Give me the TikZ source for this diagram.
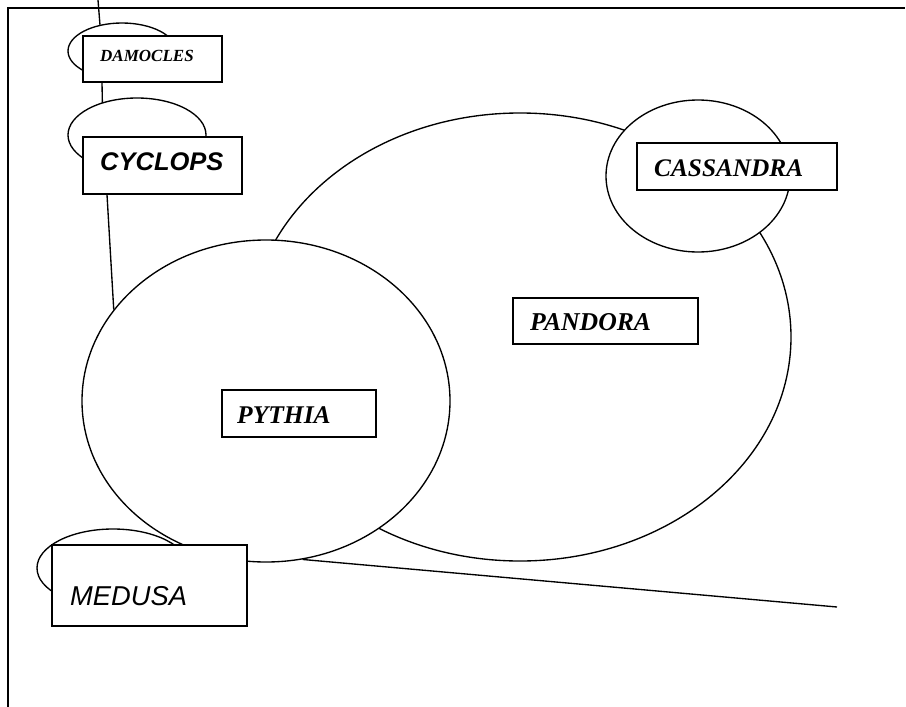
\documentclass[tikz,border=0pt]{standalone}
\usepackage{fontspec}
\setmainfont{Liberation Serif}
\setsansfont{Liberation Sans}
\usetikzlibrary{shapes.geometric,backgrounds}
\begin{document}
\begin{tikzpicture}[x=1pt,y=-1pt,
  conn/.style={line width=1.35pt},
  oval/.style={draw,ellipse,fill=white,line width=1.35pt,inner sep=0pt},
  box/.style={draw,rectangle,fill=white,line width=1.5pt,inner sep=0pt},
  lbl/.style={anchor=base west,inner sep=0pt},
  serifbi/.style={font=\fontsize{#1}{#1}\selectfont\rmfamily\bfseries\itshape},
  sansbi/.style={font=\fontsize{#1}{#1}\selectfont\sffamily\bfseries\itshape},
  sansi/.style={font=\fontsize{#1}{#1}\selectfont\sffamily\itshape}]
\useasboundingbox (0,0) rectangle (906,707);
% ellipses
\node[oval,minimum width=542pt,minimum height=448pt] (panE) at (520,337) {};
\node[oval,minimum width=368pt,minimum height=322pt] (pyE) at (266,401) {};
\node[oval,minimum width=184pt,minimum height=152pt] (casE) at (698,176) {};
\node[oval,minimum width=108pt,minimum height=56pt] (damE) at (122,51) {};
\node[oval,minimum width=138pt,minimum height=74pt] (cycE) at (137,135) {};
\node[oval,minimum width=152pt,minimum height=78pt] (medE) at (113,568) {};
% boxes
\node[box,minimum width=139pt,minimum height=46pt] (damB) at (152.5,59) {};
\node[box,minimum width=159pt,minimum height=57pt] (cycB) at (162.5,165.5) {};
\node[box,minimum width=200pt,minimum height=47pt] (casB) at (737,166.5) {};
\node[box,minimum width=185pt,minimum height=46pt] (panB) at (605.5,321) {};
\node[box,minimum width=154pt,minimum height=47pt] (pyB) at (299,413.5) {};
\node[box,minimum width=195pt,minimum height=81pt] (medB) at (149.5,585.5) {};
% labels
\node[lbl,serifbi=17] (damT) at (100,61) {DAMOCLES};
\node[lbl,sansbi=25.5] (cycT) at (100,170) {CYCLOPS};
\node[lbl,serifbi=25.3] (casT) at (654,176) {CASSANDRA};
\node[lbl,serifbi=25.7] (panT) at (530,330) {PANDORA};
\node[lbl,serifbi=25.5] (pyT) at (237,423) {PYTHIA};
\node[lbl,sansi=27.3] (medT) at (70,605) {MEDUSA};
% free ends
\coordinate (topend) at (98,0);
\coordinate (lineend) at (837,607);
\coordinate (frameBL) at (8,707);
\coordinate (frameTL) at (8,8);
\coordinate (frameTR) at (905,8);
\begin{scope}[on background layer]
\draw[line width=1.3pt] (frameBL) -- (frameTL) -- (frameTR);
\draw[conn] (topend) -- (damE.130);
\draw[conn] ([xshift=-50.5pt]damB.south) -- ([xshift=-34pt]cycE.center);
\draw[conn] ([xshift=-55.5pt]cycB.south) -- (pyE.149.4);
\draw[conn] (pyE.283.7) -- (lineend);
\end{scope}
\end{tikzpicture}
\end{document}
